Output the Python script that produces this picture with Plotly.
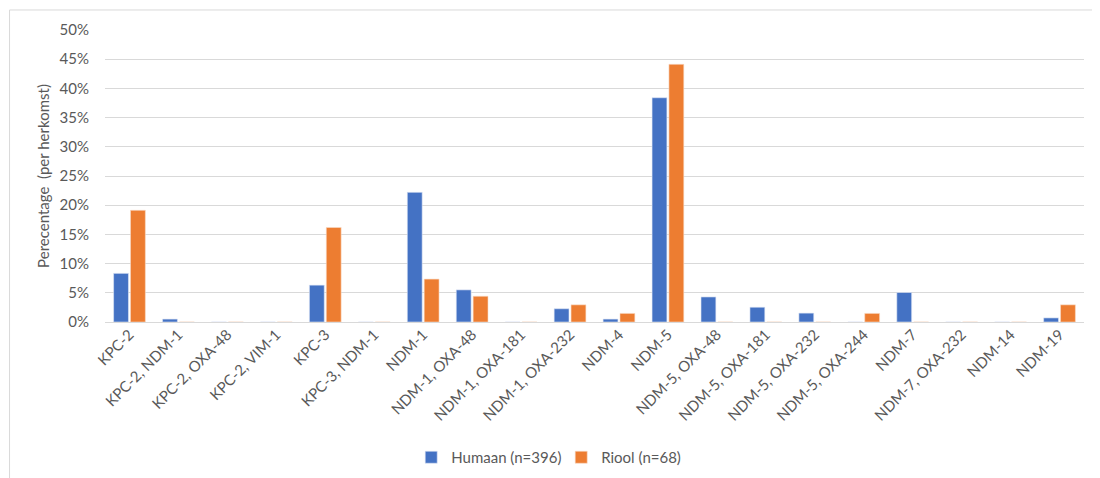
import plotly.graph_objects as go

categories = ["KPC-2", "KPC-2, NDM-1", "KPC-2, OXA-48", "KPC-2, VIM-1", "KPC-3",
              "KPC-3, NDM-1", "NDM-1", "NDM-1, OXA-48", "NDM-1, OXA-181", "NDM-1, OXA-232",
              "NDM-4", "NDM-5", "NDM-5, OXA-48", "NDM-5, OXA-181", "NDM-5, OXA-232",
              "NDM-5, OXA-244", "NDM-7", "NDM-7, OXA-232", "NDM-14", "NDM-19"]
humaan = [8.33, 0.5, 0, 0, 6.31, 0, 22.2, 5.5, 0, 2.27,
          0.5, 38.4, 4.29, 2.53, 1.52, 0, 5.05, 0, 0, 0.7]
riool = [19.12, 0, 0, 0, 16.18, 0, 7.35, 4.41, 0, 2.94,
         1.47, 44.12, 0, 0, 0, 1.47, 0, 0, 0, 2.94]
y_ticks = [0, 5, 10, 15, 20, 25, 30, 35, 40, 45, 50]
y_tick_labels = [f"{v}%" for v in y_ticks]

FONT = "Lato"
GREY = "#595959"
FS = 15

fig = go.Figure()
fig.add_trace(go.Bar(x=categories, y=humaan, name="Humaan (n=396)",
                     marker=dict(color="#4472C4", line=dict(color="#dfe6f5", width=0.6))))
fig.add_trace(go.Bar(x=categories, y=riool, name="Riool (n=68)",
                     marker=dict(color="#ED7D31", line=dict(color="#f9dcc8", width=0.6))))

# page has an 8px body margin; plot area targets screen x 104.5-1084, y 30-321.7
fig.update_layout(
    width=1100, height=478,
    margin=dict(l=96.5, r=24, t=22, b=164.3),
    paper_bgcolor="white", plot_bgcolor="white",
    barmode="group", bargap=0.31, bargroupgap=0.12,
    font=dict(family=FONT, size=FS, color=GREY),
    showlegend=True,
    legend=dict(orientation="h", x=0.466, xanchor="center", y=-0.464, yanchor="middle",
                font=dict(family=FONT, size=FS, color=GREY), itemwidth=30,
                entrywidth=105, traceorder="normal"),
    xaxis=dict(tickangle=-45, showgrid=False, showline=False, ticks="",
               automargin=False,
               tickfont=dict(family=FONT, size=FS, color=GREY)),
    yaxis=dict(range=[0, 50], tickvals=y_ticks, ticktext=y_tick_labels,
               showgrid=True, gridcolor="#d9d9d9", gridwidth=1,
               zeroline=True, zerolinecolor="#d9d9d9", zerolinewidth=1,
               showline=False, ticks="", ticklabelstandoff=15, automargin=False,
               tickfont=dict(family=FONT, size=FS, color=GREY),
               title=dict(text="Perecentage  (per herkomst)", standoff=6,
                          font=dict(family=FONT, size=FS, color=GREY))),
    shapes=[dict(type="rect", xref="paper", yref="paper",
                 x0=(9 - 104.5) / 979.5, x1=(1110 - 104.5) / 979.5,
                 y0=(321.7 - 490) / 291.7, y1=(321.7 - 10) / 291.7,
                 line=dict(color="#d9d9d9", width=1), fillcolor="rgba(0,0,0,0)",
                 layer="below")],
)

fig.write_html("out.html")
